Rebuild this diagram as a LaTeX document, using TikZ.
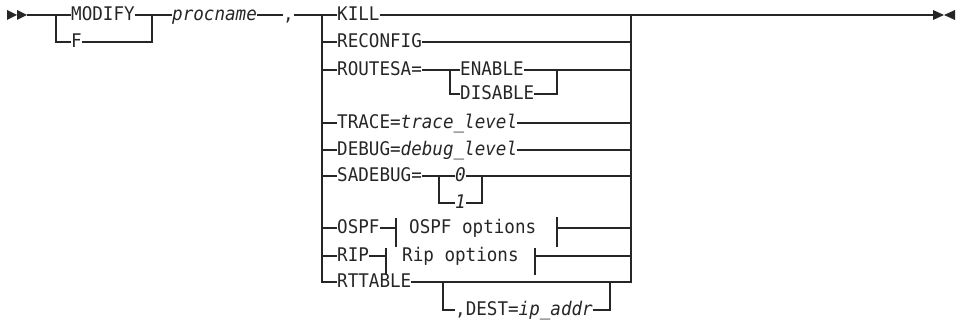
\documentclass[tikz,border=0pt]{standalone}
\usepackage{fontspec}
\setmonofont[FakeStretch=0.935]{DejaVu Sans Mono}
\begin{document}
\begin{tikzpicture}[x=1pt,y=-1pt,
  rail/.style={line width=1.1pt, draw=black!85},
  lbl/.style={inner sep=0pt, anchor=west, text height=13.7pt, text depth=2pt,
    font=\ttfamily\fontsize{18.8}{21}\selectfont, text=black!85},
  tip/.style={fill=black!85, draw=none}]
\useasboundingbox (0,0) rectangle (961,321);
% coordinates
\coordinate (start) at (27,15);
\coordinate (a1) at (56,15);
\coordinate (a2) at (152,15);
\coordinate (b1) at (322,15);
\coordinate (b2) at (631,15);
\coordinate (fin) at (933,15);
\coordinate (e1) at (450,70);
\coordinate (e2) at (557,70);
\coordinate (s1) at (439,176);
\coordinate (s2) at (482,176);
\coordinate (d1) at (443,282);
\coordinate (d2) at (610,282);
\coordinate (ol) at (396,228);
\coordinate (or) at (557,228);
\coordinate (rl) at (386,256);
\coordinate (rr) at (535,256);
% labels
\node[lbl] (modify) at (71,15) {MODIFY};
\node[lbl] (f) at (71,42) {F};
\node[lbl] (proc) at (172,15) {\itshape procname};
\node[lbl] (comma) at (283,15) {,};
\node[lbl] (kill) at (337,15) {KILL};
\node[lbl] (reconfig) at (337,42) {RECONFIG};
\node[lbl] (routesa) at (337,70) {ROUTESA=};
\node[lbl] (enable) at (460,70) {ENABLE};
\node[lbl] (disable) at (460,94) {DISABLE};
\node[lbl] (trace) at (337,123) {TRACE=\textit{trace\_level}};
\node[lbl] (debug) at (337,150) {DEBUG=\textit{debug\_level}};
\node[lbl] (sadebug) at (337,176) {SADEBUG=};
\node[lbl] (zero) at (455,176) {\itshape 0};
\node[lbl] (one) at (455,203) {\itshape 1};
\node[lbl] (ospf) at (337,228) {OSPF};
\node[lbl] (ospfopt) at (409,228) {OSPF options};
\node[lbl] (rip) at (337,256) {RIP};
\node[lbl] (ripopt) at (402,256) {Rip options};
\node[lbl] (rttable) at (337,282) {RTTABLE};
\node[lbl] (dest) at (455,310) {,DEST=\textit{ip\_addr}};
% end marks
\fill[tip] (7,10) -- (17,15) -- (7,20) -- cycle;
\fill[tip] (17,10) -- (27,15) -- (17,20) -- cycle;
\fill[tip] (933,10) -- (944,15) -- (933,20) -- cycle;
\fill[tip] (955,10) -- (944,15) -- (955,20) -- cycle;
% main line
\draw[rail] (start) -- (modify.west);
\draw[rail] (modify.east) -- (proc.west);
\draw[rail] (a1) |- (f.west);
\draw[rail] (f.east) -| (a2);
\draw[rail] (proc.east) -- (comma.west);
\draw[rail] (comma.east) -- (kill.west);
\draw[rail] (kill.east) -- (fin);
% option stack
\draw[rail] (b1) |- (rttable.west);
\draw[rail] (rttable.east) -| (b2);
\foreach \n in {reconfig,routesa,trace,debug,sadebug,ospf,rip}
  \draw[rail] (b1 |- \n.west) -- (\n.west);
\foreach \n in {reconfig,trace,debug}
  \draw[rail] (\n.east) -- (\n.east -| b2);
% ROUTESA
\draw[rail] (routesa.east) -- (enable.west);
\draw[rail] (e1) |- (disable.west);
\draw[rail] (disable.east) -| (e2);
\draw[rail] (enable.east) -- (enable.east -| b2);
% SADEBUG
\draw[rail] (sadebug.east) -- (zero.west);
\draw[rail] (s1) |- (one.west);
\draw[rail] (one.east) -| (s2);
\draw[rail] (zero.east) -- (zero.east -| b2);
% OSPF
\draw[rail] (ospf.east) -- (ol);
\draw[rail] (ol) ++(0,-10) -- ++(0,29);
\draw[rail] (or) ++(0,-11) -- ++(0,30);
\draw[rail] (or) -- (or -| b2);
% RIP
\draw[rail] (rip.east) -- (rl);
\draw[rail] (rl) ++(0,-8) -- ++(0,27);
\draw[rail] (rr) ++(0,-8) -- ++(0,27);
\draw[rail] (rr) -- (rr -| b2);
% RTTABLE DEST
\draw[rail] (d1) |- (dest.west);
\draw[rail] (dest.east) -| (d2);
\end{tikzpicture}
\end{document}
